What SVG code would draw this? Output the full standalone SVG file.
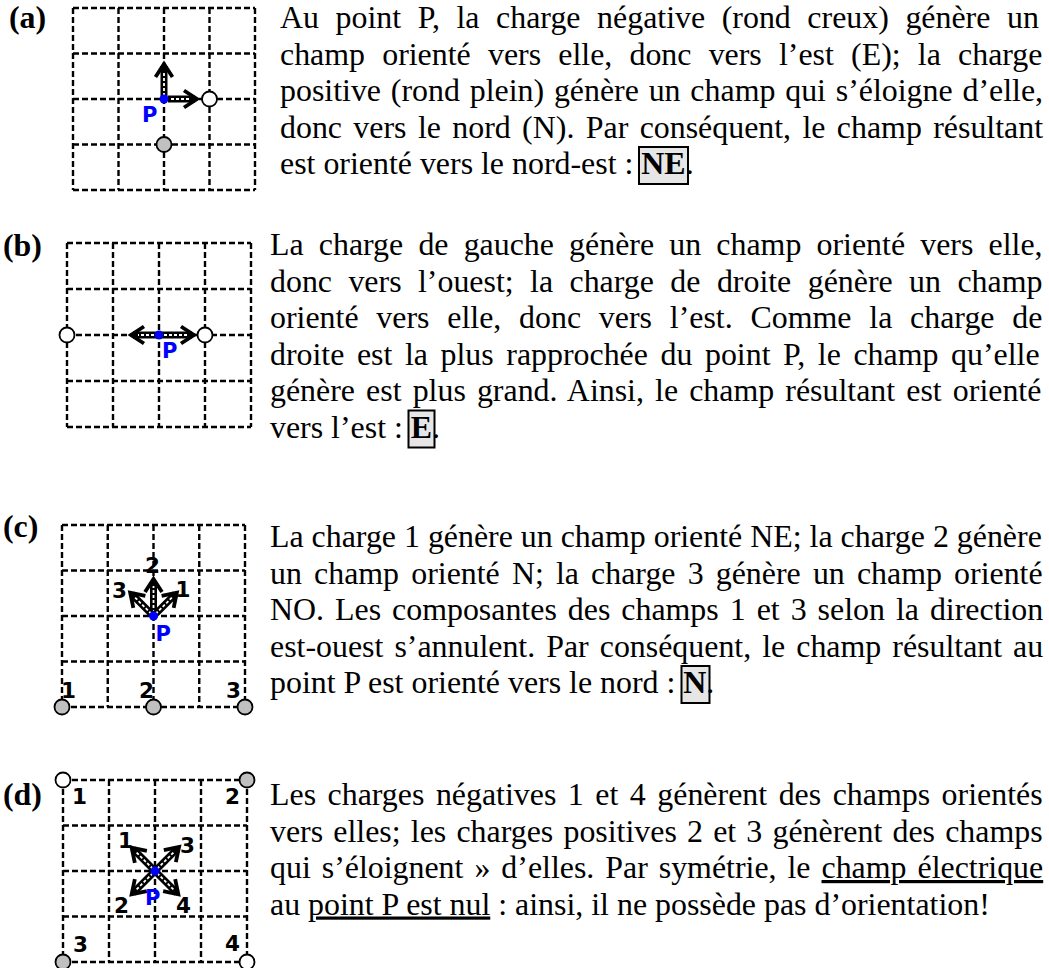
<svg xmlns="http://www.w3.org/2000/svg" width="1049" height="968" viewBox="0 0 1049 968">
<style>
.t{font-family:"Liberation Serif","Times New Roman",serif;font-size:31.9px;fill:#000}
.lab{font-weight:bold}
.grid{fill:none;stroke:#000;stroke-width:2.4;stroke-dasharray:6 3}
.pos{fill:#c0c0c0;stroke:#000;stroke-width:1.8}
.neg{fill:#fff;stroke:#000;stroke-width:1.8}
.pd{fill:#0000ff}
.pl{font-family:"DejaVu Sans",Verdana,sans-serif;font-weight:bold;font-size:21px;fill:#0000ff}
.num{font-family:"DejaVu Sans",Verdana,sans-serif;font-weight:bold;font-size:21.5px;fill:#000}
.sh{stroke:#000;stroke-width:7}
.co{stroke:#fff;stroke-width:1.8;stroke-dasharray:3 2}
.hd{fill:none;stroke:#000;stroke-width:3.8;stroke-linejoin:miter}
.box{fill:#e6e6e6;stroke:#000;stroke-width:2}
</style>

<!-- Panel (a) -->
<g id="panel-a">
<text class="t lab" x="9" y="28">(a)</text>
<path class="grid" d="M73 8H255M73 53.5H255M73 99H255M73 144.5H255M73 190H255M73 8V190M118.5 8V190M164 8V190M209.5 8V190M255 8V190"/>
<circle class="neg" cx="209.5" cy="99" r="7.5"/>
<circle class="pos" cx="164" cy="144.5" r="7.5"/>
</g>

<!-- Panel (b) -->
<g id="panel-b">
<text class="t lab" x="3" y="256">(b)</text>
<path class="grid" d="M67 243H251M67 289H251M67 335H251M67 381H251M67 427H251M67 243V427M113 243V427M159 243V427M205 243V427M251 243V427"/>
<circle class="neg" cx="67" cy="335" r="7.5"/>
<circle class="neg" cx="205" cy="335" r="7.5"/>
</g>

<!-- Panel (c) -->
<g id="panel-c">
<text class="t lab" x="3" y="537">(c)</text>
<path class="grid" d="M62 525H245M62 570.5H245M62 616H245M62 661.5H245M62 707H245M62 525V707M107.75 525V707M153.5 525V707M199.25 525V707M245 525V707"/>
<circle class="pos" cx="62" cy="707" r="7.5"/>
<circle class="pos" cx="153.5" cy="707" r="7.5"/>
<circle class="pos" cx="245" cy="707" r="7.5"/>
<text class="num" x="61" y="698">1</text>
<text class="num" x="139" y="698">2</text>
<text class="num" x="226" y="698">3</text>
</g>

<!-- Panel (d) -->
<g id="panel-d">
<text class="t lab" x="3" y="805">(d)</text>
<path class="grid" d="M63 780H247M63 825.5H247M63 871H247M63 916.5H247M63 962H247M63 780V962M109 780V962M155 780V962M201 780V962M247 780V962"/>
<circle class="neg" cx="63" cy="780" r="7.5"/>
<circle class="pos" cx="247" cy="780" r="7.5"/>
<circle class="pos" cx="63" cy="962" r="7.5"/>
<circle class="neg" cx="247" cy="962" r="7.5"/>
<text class="num" x="72" y="804">1</text>
<text class="num" x="225" y="804">2</text>
<text class="num" x="73" y="952">3</text>
<text class="num" x="225" y="951">4</text>
</g>

<!-- Field vectors (connectors) -->
<g id="connectors">
<g transform="translate(164 99) rotate(-90)"><line class="sh" x1="0" y1="0" x2="33" y2="0"/><line class="co" x1="3" y1="0" x2="28" y2="0"/><polyline class="hd" points="22,-8.5 35,0 22,8.5"/></g>
<g transform="translate(164 99)"><line class="sh" x1="4" y1="0" x2="31" y2="0"/><line class="co" x1="7" y1="0" x2="26" y2="0"/><polyline class="hd" points="20,-8.5 33,0 20,8.5"/></g>

<g transform="translate(159 335) rotate(180)"><line class="sh" x1="0" y1="0" x2="26" y2="0"/><line class="co" x1="5" y1="0" x2="21" y2="0"/><polyline class="hd" points="15,-8.5 28,0 15,8.5"/></g>
<g transform="translate(159 335)"><line class="sh" x1="0" y1="0" x2="33" y2="0"/><line class="co" x1="5" y1="0" x2="28" y2="0"/><polyline class="hd" points="22,-8.5 35,0 22,8.5"/></g>

<g transform="translate(153.5 616) rotate(-90)"><line class="sh" x1="0" y1="0" x2="35" y2="0"/><line class="co" x1="3" y1="0" x2="30" y2="0"/><polyline class="hd" points="24,-8.5 37,0 24,8.5"/></g>
<g transform="translate(153.5 616) rotate(-45)"><line class="sh" x1="0" y1="0" x2="31" y2="0"/><line class="co" x1="3" y1="0" x2="26" y2="0"/><polyline class="hd" points="20,-8.5 33,0 20,8.5"/></g>
<g transform="translate(153.5 616) rotate(-135)"><line class="sh" x1="0" y1="0" x2="31" y2="0"/><line class="co" x1="3" y1="0" x2="26" y2="0"/><polyline class="hd" points="20,-8.5 33,0 20,8.5"/></g>

<g transform="translate(155 871) rotate(-135)"><line class="sh" x1="0" y1="0" x2="31" y2="0"/><line class="co" x1="3" y1="0" x2="26" y2="0"/><polyline class="hd" points="20,-8.5 33,0 20,8.5"/></g>
<g transform="translate(155 871) rotate(-45)"><line class="sh" x1="0" y1="0" x2="32" y2="0"/><line class="co" x1="3" y1="0" x2="27" y2="0"/><polyline class="hd" points="21,-8.5 34,0 21,8.5"/></g>
<g transform="translate(155 871) rotate(135)"><line class="sh" x1="0" y1="0" x2="31" y2="0"/><line class="co" x1="3" y1="0" x2="26" y2="0"/><polyline class="hd" points="20,-8.5 33,0 20,8.5"/></g>
<g transform="translate(155 871) rotate(45)"><line class="sh" x1="0" y1="0" x2="31" y2="0"/><line class="co" x1="3" y1="0" x2="26" y2="0"/><polyline class="hd" points="20,-8.5 33,0 20,8.5"/></g>
</g>

<!-- Point P markers and vector labels -->
<g id="point-a"><circle class="pd" cx="164" cy="99" r="4.5"/><text class="pl" x="142" y="122">P</text></g>
<g id="point-b"><circle class="pd" cx="159" cy="335" r="4.5"/><text class="pl" x="162" y="358">P</text></g>
<g id="point-c"><circle class="pd" cx="153.5" cy="616" r="4.5"/><text class="pl" x="155.5" y="641">P</text>
<text class="num" x="145" y="573">2</text><text class="num" x="112" y="598">3</text><text class="num" x="175.5" y="597">1</text></g>
<g id="point-d"><circle class="pd" cx="155" cy="871" r="4.5"/><text class="pl" x="145" y="905">P</text>
<text class="num" x="118" y="848">1</text><text class="num" x="180" y="853">3</text><text class="num" x="114" y="913">2</text><text class="num" x="176" y="913">4</text></g>

<!-- Text (a) -->
<g id="text-a" class="t">
<text x="280" y="28" style="word-spacing:8.62px">Au point P, la charge négative (rond creux) génère un</text>
<text x="280" y="64.5" style="word-spacing:9.22px">champ orienté vers elle, donc vers l’est (E); la charge</text>
<text x="280" y="101" style="word-spacing:1.84px">positive (rond plein) génère un champ qui s’éloigne d’elle,</text>
<text x="280" y="137.5" style="word-spacing:3.41px">donc vers le nord (N). Par conséquent, le champ résultant</text>
<rect class="box" x="639" y="147" width="49" height="37"/>
<text x="280" y="174">est orienté vers le nord-est : <tspan font-weight="bold">NE</tspan>.</text>
</g>

<!-- Text (b) -->
<g id="text-b" class="t">
<text x="270" y="255" style="word-spacing:7.2px">La charge de gauche génère un champ orienté vers elle,</text>
<text x="270" y="291.5" style="word-spacing:8.46px">donc vers l’ouest; la charge de droite génère un champ</text>
<text x="270" y="328" style="word-spacing:9.83px">orienté vers elle, donc vers l’est. Comme la charge de</text>
<text x="270" y="364.5" style="word-spacing:4.6px">droite est la plus rapprochée du point P, le champ qu’elle</text>
<text x="270" y="401" style="word-spacing:3.15px">génère est plus grand. Ainsi, le champ résultant est orienté</text>
<rect class="box" x="408.5" y="410.5" width="26" height="37"/>
<text x="270" y="437.5">vers l’est : <tspan font-weight="bold">E</tspan>.</text>
</g>

<!-- Text (c) -->
<g id="text-c" class="t">
<text x="270" y="547">La charge 1 génère un champ orienté NE; la charge 2 génère</text>
<text x="270" y="583.5" style="word-spacing:4.18px">un champ orienté N; la charge 3 génère un champ orienté</text>
<text x="270" y="620" style="word-spacing:3.02px">NO. Les composantes des champs 1 et 3 selon la direction</text>
<text x="270" y="656.5" style="word-spacing:3.05px">est-ouest s’annulent. Par conséquent, le champ résultant au</text>
<rect class="box" x="681.5" y="666" width="28" height="37"/>
<text x="270" y="693">point P est orienté vers le nord : <tspan font-weight="bold">N</tspan>.</text>
</g>

<!-- Text (d) -->
<g id="text-d" class="t">
<text x="270" y="805" style="word-spacing:3.55px">Les charges négatives 1 et 4 génèrent des champs orientés</text>
<text x="270" y="841.5" style="word-spacing:2.22px">vers elles; les charges positives 2 et 3 génèrent des champs</text>
<text x="270" y="878" style="word-spacing:3px">qui s’éloignent » d’elles. Par symétrie, le <tspan text-decoration="underline">champ électrique</tspan></text>
<text x="270" y="914.5">au <tspan text-decoration="underline">point P est nul</tspan> : ainsi, il ne possède pas d’orientation!</text>
</g>
</svg>
